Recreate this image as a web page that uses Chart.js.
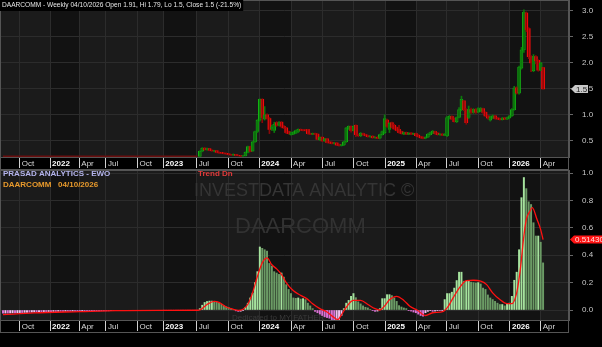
<!DOCTYPE html>
<html>
<head>
<meta charset="utf-8">
<script src="https://cdn.jsdelivr.net/npm/chart.js@4.4.1/dist/chart.umd.min.js"></script>
<style>
html, body { margin: 0; padding: 0; background: #000; }
#wrap { position: relative; width: 602px; height: 347px; overflow: hidden; }
canvas { position: absolute; left: 0; }
#precio { top: 0; }
#ewo { top: 170px; }
</style>
</head>
<body>
<div id="wrap">
  <canvas id="precio" width="602" height="170" style="width:602px;height:170px"></canvas>
  <canvas id="ewo" width="602" height="177" style="width:602px;height:177px"></canvas>
</div>
<script>
// eje de tiempo: una posicion por semana (0 = primera semana visible)
const semanasTicks = [7, 19.6, 31.8, 42.9, 56, 66.8, 80.7, 93.9, 106.8, 120, 133.2, 146.2, 159.2, 172.1, 184.9, 198, 211.2, 224];
const etiquetasTicks = ["Oct", "2022", "Apr", "Jul", "Oct", "2023", "Jul", "Oct", "2024", "Apr", "Jul", "Oct", "2025", "Apr", "Jul", "Oct", "2026", "Apr"];

// antes de cotizar: linea plana
const semanasPrevias = [0, 81];
const precioPrevio = [0.2, 0.2];

// velas semanales desde la semana 82
const primeraVela = 82;
const opens = [
  .20,.30,.36,.33,.35,.32,.30,.31,.28,.28, .265,.26,.25,.24,.23,.24,.22,.215,.21,.21,
  .28,.39,.30,.48,.68,.90,1.30,.92,1.00,.93, .74,.70,.85,.80,.86,.78,.75,.68,.62,.63,
  .65,.68,.72,.71,.71,.72,.64,.63,.64,.63, .52,.57,.50,.54,.48,.47,.45,.46,.43,.41,
  .42,.48,.74,.78,.70,.80,.62,.60,.64,.62, .60,.58,.59,.56,.57,.55,.62,.66,.90,.72,
  .85,.80,.76,.72,.68,.63,.66,.63,.65,.63, .64,.61,.58,.57,.55,.57,.62,.65,.68,.65,
  .62,.63,.61,.60,.94,.97,.93,.87,.95,1.10, 1.27,1.10,.95,1.10,1.05,1.10,1.05,1.08,1.12,1.05,
  .98,.90,.94,.98,.94,.93,.91,.94,.92,.94, .98,1.10,1.52,1.42,1.90,2.25,2.96,2.66,2.12,1.85,
  2.12,2.05,1.86,1.91
];
const highs = [
  .31,.37,.37,.36,.35,.33,.32,.31,.29,.28, .27,.27,.25,.24,.25,.24,.23,.22,.22,.29,
  .40,.40,.49,.69,.91,1.31,1.31,1.16,1.02,.95, .80,.86,.87,.87,.87,.80,.76,.69,.67,.68,
  .71,.73,.73,.72,.72,.72,.65,.65,.65,.64, .58,.58,.55,.55,.49,.48,.47,.47,.44,.43,
  .49,.76,.79,.79,.79,.81,.63,.66,.65,.63, .61,.60,.60,.58,.58,.63,.69,1.00,.92,.85,
  .86,.82,.77,.80,.69,.67,.67,.66,.66,.65, .65,.62,.59,.58,.58,.64,.67,.70,.69,.66,
  .64,.64,.64,.97,.99,.98,.94,.96,1.14,1.36, 1.28,1.12,1.17,1.13,1.12,1.12,1.14,1.14,1.13,1.06,
  .99,.98,1.00,.99,.95,.94,.95,.95,.96,.99, 1.12,1.55,1.54,1.94,2.30,3.02,2.98,2.68,2.14,2.16,
  2.14,2.06,2.01,1.91
];
const lows = [
  .19,.29,.32,.32,.31,.30,.29,.27,.26,.26, .25,.24,.23,.22,.22,.21,.21,.20,.20,.21,
  .27,.29,.30,.47,.66,.88,.85,.90,.92,.64, .70,.66,.78,.79,.75,.74,.64,.63,.61,.62,
  .64,.66,.70,.69,.69,.63,.62,.62,.62,.52, .51,.49,.49,.46,.45,.44,.44,.41,.40,.40,
  .41,.47,.72,.67,.69,.58,.58,.58,.61,.59, .57,.57,.55,.55,.54,.54,.61,.64,.76,.66,
  .75,.72,.69,.65,.63,.62,.62,.62,.62,.62, .59,.57,.55,.54,.54,.56,.61,.64,.63,.61,
  .61,.60,.60,.58,.92,.91,.86,.85,.94,1.08, 1.08,.82,.93,1.03,1.03,1.03,1.04,1.06,1.03,.97,
  .92,.88,.93,.92,.91,.90,.90,.91,.91,.93, .97,1.09,1.40,1.40,1.88,2.20,2.60,2.08,1.83,1.83,
  1.98,1.84,1.85,1.50
];
const closes = [
  .30,.36,.33,.35,.32,.31,.31,.28,.27,.265, .26,.25,.24,.23,.24,.22,.215,.21,.215,.28,
  .39,.30,.48,.68,.90,1.30,.95,1.00,.93,.72, .76,.82,.80,.85,.78,.75,.66,.64,.66,.67,
  .70,.72,.71,.70,.70,.64,.63,.64,.63,.53, .57,.50,.54,.47,.46,.45,.46,.42,.41,.42,
  .48,.75,.78,.70,.78,.62,.60,.65,.62,.60, .58,.59,.56,.57,.55,.62,.68,.93,.78,.84,
  .76,.73,.70,.66,.64,.66,.63,.65,.63,.64, .60,.58,.56,.55,.57,.63,.66,.69,.64,.62,
  .63,.61,.63,.95,.97,.92,.87,.95,1.10,1.30, 1.10,.85,1.10,1.05,1.10,1.05,1.12,1.12,1.05,.98,
  .94,.96,.98,.93,.92,.91,.94,.92,.95,.98, 1.10,1.52,1.42,1.92,2.25,2.98,2.64,2.12,2.00,2.12,
  2.04,1.86,2.00,1.50
];

// oscilador EWO, una barra por semana desde la semana 0
const ewo = [
  -0.024,-0.023,-0.023,-0.022,-0.021,-0.021,-0.020,-0.019,-0.019,-0.018,-0.017,-0.017,-0.016,
  -0.015,-0.015,-0.014,-0.014,-0.013,-0.013,-0.012,-0.012,-0.011,-0.011,-0.010,-0.010,-0.010,-0.009,-0.009,-0.009,-0.008,-0.008,-0.008,-0.008,
  -0.006,-0.006,-0.006,-0.006,-0.006,-0.006,-0.006,-0.006,-0.006,-0.006,-0.006,-0.006,
  -0.005,-0.005,-0.005,-0.005,-0.005,-0.005,-0.005,-0.005,-0.005,-0.005,-0.005,-0.005,
  -0.004,-0.004,-0.004,-0.004,-0.004,-0.004,-0.004,-0.004,-0.004,-0.004,
  -0.002,-0.002,-0.002,-0.002,-0.002,-0.002,-0.002,-0.002,-0.002,-0.002,-0.002,-0.002,-0.002,-0.002,-0.002,
  0.01,0.035,0.055,0.062,0.065,0.065,0.064,0.058,0.05,0.042,
  0.032,0.024,0.018,0.012,0.005,-0.006,-0.01,-0.009,-0.004,0.02,
  0.05,0.088,0.124,0.2,0.28,0.46,0.45,0.44,0.43,0.34,
  0.32,0.28,0.27,0.26,0.27,0.24,0.185,0.15,0.12,0.088,
  0.085,0.088,0.08,0.083,0.076,0.05,0.03,0.01,-0.01,-0.02,
  -0.03,-0.04,-0.05,-0.055,-0.06,-0.07,-0.1,-0.09,-0.07,-0.04,
  0.01,0.05,0.07,0.1,0.12,0.09,0.06,0.045,0.03,0.02,
  0.015,0.005,-0.005,-0.01,-0.008,0.01,0.083,0.083,0.112,0.112,
  0.105,0.088,0.063,0.032,0.022,0.015,0.01,-0.005,-0.008,-0.015,
  -0.02,-0.03,-0.04,-0.045,-0.02,-0.01,-0.005,-0.01,-0.008,-0.005,
  -0.005,-0.002,0.076,0.12,0.12,0.13,0.16,0.215,0.276,0.276,
  0.21,0.21,0.21,0.203,0.2,0.197,0.2,0.19,0.16,0.15,
  0.11,0.088,0.076,0.063,0.05,0.04,0.04,0.03,0.044,0.05,
  0.1,0.217,0.276,0.44,0.82,0.967,0.886,0.79,0.77,0.637,
  0.54,0.54,0.495,0.344
];

const tendenciaSemanas = [0, 13, 32, 47, 65, 81, 82, 85, 88, 90, 93, 96, 98, 100, 102, 104, 106, 108, 110, 112, 114, 116, 118, 121, 124, 126.5, 129, 132, 135, 137.5, 139.5, 141, 143, 146, 149, 152, 155, 157, 159, 161, 164, 167, 169.5, 172.5, 176, 179, 183.5, 185.5, 187.5, 190.5, 193, 196, 199, 201.5, 204, 207, 210, 212, 214, 215.5, 217, 218, 219.5, 220.5, 222.5, 224, 225];
const tendenciaValores = [-0.034, -0.021, -0.012, -0.005, -0.003, -0.002, 0, 0.04, 0.063, 0.055, 0.022, 0.005, -0.003, 0.005, 0.042, 0.127, 0.246, 0.344, 0.38, 0.33, 0.30, 0.26, 0.2, 0.14, 0.107, 0.083, 0.046, 0.01, -0.015, -0.05, -0.07, -0.035, 0.02, 0.07, 0.07, 0.04, 0.01, 0, 0.03, 0.075, 0.1, 0.07, 0.027, 0, -0.04, -0.02, -0.01, 0.027, 0.088, 0.17, 0.215, 0.217, 0.21, 0.185, 0.125, 0.076, 0.046, 0.046, 0.125, 0.295, 0.54, 0.66, 0.72, 0.747, 0.66, 0.587, 0.5143];

const fuente = "'Liberation Sans', Arial, sans-serif";
const esAnio = i => /^\d{4}$/.test(etiquetasTicks[i]);

//eje x compartido por los dos paneles
function ejeX() {
  return {
    type: 'linear', min: -1.25, max: 235.8, offset: false,
    afterBuildTicks: s => { s.ticks = semanasTicks.map(v => ({ value: v })); },
    afterFit: s => { s.height = 13; s.paddingLeft = 0; s.paddingRight = 0; },
    ticks: {
      autoSkip: false, maxRotation: 0, align: 'start', padding: -9, labelOffset: 2,
      callback: (v, i) => etiquetasTicks[i],
      color: c => esAnio(c.index) ? '#ffffff' : '#d8d8d8',
      font: c => ({ family: fuente, size: 8, weight: esAnio(c.index) ? 'bold' : 'normal' })
    },
    grid: { offset: false, color: '#2c2c2c', tickColor: '#d0d0d0', tickLength: 11, drawTicks: true },
    border: { display: true, color: '#555' }
  };
}
function ejeY(min, max, paso) {
  return {
    position: 'right', min: min, max: max,
    afterFit: s => { s.width = 33; s.paddingTop = 0; s.paddingBottom = 0; },
    ticks: { stepSize: paso, includeBounds: false, padding: 9, color: '#c8c8c8',
      font: { family: fuente, size: 8 }, callback: v => v.toFixed(1) },
    grid: { color: '#2c2c2c', tickColor: '#666', tickLength: 4 },
    border: { display: true, color: '#555' }
  };
}

//fondo con franjas por trimestre y franja de fechas negra
const fondo = {
  id: 'fondo',
  beforeDraw(chart) {
    const { ctx, chartArea: a } = chart;
    const x = chart.scales.x;
    ctx.save();
    ctx.fillStyle = '#000';
    ctx.fillRect(0, 0, chart.width, chart.height);
    ctx.fillStyle = '#1b1b1b';
    ctx.fillRect(a.left, a.top, a.width, a.height);
    ctx.fillStyle = '#121212';
    etiquetasTicks.forEach((et, i) => {
      if (!esAnio(i)) return;
      const x0 = x.getPixelForValue(semanasTicks[i]);
      const x1 = i + 1 < semanasTicks.length ? x.getPixelForValue(semanasTicks[i + 1]) : a.right;
      ctx.fillRect(x0, a.top, x1 - x0, a.height);
    });
    ctx.restore();
  },
  afterDraw(chart) {
    const { ctx, chartArea: a } = chart;
    ctx.save();
    ctx.strokeStyle = '#555';
    ctx.lineWidth = 1;
    ctx.strokeRect(a.left + 0.5, a.top + 0.5, a.width - 1, a.height + 12);
    ctx.beginPath();
    ctx.moveTo(a.left, a.bottom + 12.5);
    ctx.lineTo(a.right, a.bottom + 12.5);
    ctx.stroke();
    ctx.restore();
  }
};

function etiquetaPrecio(ctx, y, texto, fondoColor, colorTexto, x0, x1) {
  ctx.save();
  ctx.fillStyle = fondoColor;
  ctx.beginPath();
  ctx.moveTo(x0, y);
  ctx.lineTo(x0 + 4, y - 4);
  ctx.lineTo(x1, y - 4);
  ctx.lineTo(x1, y + 4);
  ctx.lineTo(x0 + 4, y + 4);
  ctx.closePath();
  ctx.fill();
  ctx.fillStyle = colorTexto;
  ctx.font = '8px ' + fuente;
  ctx.textBaseline = 'middle';
  ctx.fillText(texto, x0 + 5, y + 0.5);
  ctx.restore();
}

const textosPrecio = {
  id: 'textosPrecio',
  afterDraw(chart) {
    const ctx = chart.ctx;
    const titulo = 'DAARCOMM - Weekly 04/10/2026 Open 1.91, Hi 1.79, Lo 1.5, Close 1.5 (-21.5%)';
    ctx.save();
    ctx.font = '6.6px ' + fuente;
    const w = ctx.measureText(titulo).width;
    ctx.fillStyle = '#000';
    ctx.fillRect(0, 0, w + 4, 11);
    ctx.fillStyle = '#e6e6e6';
    ctx.textBaseline = 'middle';
    ctx.fillText(titulo, 2, 5.5);
    ctx.restore();
    const ultimo = closes[closes.length - 1];
    etiquetaPrecio(ctx, chart.scales.y.getPixelForValue(ultimo), String(ultimo), '#c8c8c8', '#222', 571, 588);
  }
};

const colorVela = (k, verde, rojo) => closes[k] >= opens[k] ? verde : rojo;

new Chart(document.querySelector('#precio'), {
  type: 'bar',
  data: {
    datasets: [
      {
        type: 'line',
        data: semanasPrevias.map((s, k) => ({ x: s, y: precioPrevio[k] })),
        borderColor: '#6a0e0e', borderWidth: 2, pointRadius: 0
      },
      {
        data: lows.map((l, k) => ({ x: primeraVela + k, y: [l, highs[k]] })),
        backgroundColor: c => colorVela(c.dataIndex, '#0b7a0b', '#8a0808'),
        barThickness: 1, grouped: false
      },
      {
        data: opens.map((o, k) => ({ x: primeraVela + k, y: [o, closes[k]] })),
        backgroundColor: c => colorVela(c.dataIndex, '#0a330a', '#ff0a0a'),
        borderColor: c => colorVela(c.dataIndex, '#14b414', '#ff0a0a'),
        borderWidth: c => colorVela(c.dataIndex, 1, 0),
        borderSkipped: false, barThickness: 3, grouped: false
      }
    ]
  },
  options: {
    animation: false, responsive: false, maintainAspectRatio: false,
    layout: { padding: 0 },
    plugins: { legend: { display: false }, tooltip: { enabled: false } },
    scales: { x: ejeX(), y: ejeY(0.19, 3.21, 0.5) }
  },
  plugins: [fondo, textosPrecio]
});

const textosEwo = {
  id: 'textosEwo',
  beforeDatasetsDraw(chart) {
    const ctx = chart.ctx;
    ctx.save();
    ctx.textBaseline = 'middle';
    ctx.fillStyle = '#353535';
    ctx.font = '18px ' + fuente;
    ctx.fillText('INVESTDATA ANALYTIC \u00A9', 194, 21);
    ctx.font = '22px ' + fuente;
    ctx.fillStyle = '#323232';
    ctx.fillText('DAARCOMM', 235, 57);
    ctx.font = '8px ' + fuente;
    ctx.fillStyle = '#3a3a3a';
    ctx.fillText('Dedicated to MY FATHER', 232, 148);
    ctx.restore();
  },
  afterDraw(chart) {
    const ctx = chart.ctx;
    ctx.save();
    ctx.textBaseline = 'middle';
    ctx.font = 'bold 8px ' + fuente;
    ctx.fillStyle = '#b4b4ec';
    ctx.fillText('PRASAD ANALYTICS - EWO', 3, 4);
    ctx.fillStyle = '#e89a2c';
    ctx.fillText('DAARCOMM   04/10/2026', 3, 14.5);
    ctx.fillStyle = '#e23a3a';
    ctx.fillText('Trend Dn', 198, 4);
    ctx.restore();
    const ultimo = tendenciaValores[tendenciaValores.length - 1];
    etiquetaPrecio(ctx, chart.scales.y.getPixelForValue(ultimo), ultimo.toFixed(5), '#ff1414', '#ffe0e0', 570, 602);
  }
};

const colorEwo = c => {
  const k = c.dataIndex, v = ewo[k], prev = k > 0 ? ewo[k - 1] : v;
  if (v >= 0) return v >= prev ? '#a6e39e' : '#6b9b65';
  return v <= prev ? '#dc72d6' : '#f2bff0';
};

new Chart(document.querySelector('#ewo'), {
  type: 'bar',
  data: {
    datasets: [
      {
        type: 'line',
        data: tendenciaSemanas.map((s, k) => ({ x: s, y: tendenciaValores[k] })),
        borderColor: '#ff1010', borderWidth: 1.3, pointRadius: 0,
        cubicInterpolationMode: 'monotone'
      },
      {
        data: ewo.map((v, k) => ({ x: k, y: v })),
        backgroundColor: colorEwo,
        barThickness: 1.3, grouped: false
      }
    ]
  },
  options: {
    animation: false, responsive: false, maintainAspectRatio: false,
    layout: { padding: { bottom: 14 } },
    plugins: { legend: { display: false }, tooltip: { enabled: false } },
    scales: { x: ejeX(), y: ejeY(-0.073, 1.022, 0.2) }
  },
  plugins: [fondo, textosEwo]
});
</script>
</body>
</html>
